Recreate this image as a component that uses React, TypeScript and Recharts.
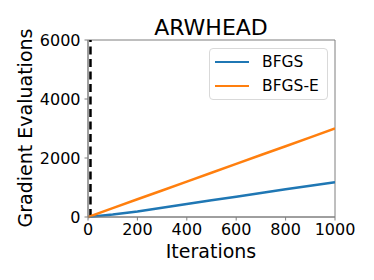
import React from 'react';
import {
  LineChart,
  Line,
  XAxis,
  YAxis,
  ReferenceLine,
  ReferenceArea,
} from 'recharts';

// values
const iterations = [0, 100, 200, 300, 400, 500, 600, 700, 800, 900, 1000];
const bfgs = [0, 85, 190, 315, 440, 565, 690, 815, 940, 1060, 1180];
const bfgsE = [0, 300, 600, 900, 1200, 1500, 1800, 2100, 2400, 2700, 3000];
const xTicks = [0, 200, 400, 600, 800, 1000];
const yTicks = [0, 2000, 4000, 6000];
const cutoff = 10;

const seriesNames = ['BFGS', 'BFGS-E'];
const seriesColors = ['#1f77b4', '#ff7f0e'];

const FONT = '"DejaVu Sans", sans-serif';
const AXIS = '#7f7f7f';

const data = iterations.map((it, i) => ({ it, bfgs: bfgs[i], bfgsE: bfgsE[i] }));

// legend is plain html on top of the svg so it doesn't eat plot space
const LegendBox = () => (
  <div
    style={{
      position: 'absolute',
      left: 209,
      top: 48,
      width: 119,
      height: 52,
      border: '1px solid #d9d9d9',
      borderRadius: 4,
      background: 'rgba(255,255,255,0.8)',
      fontFamily: FONT,
      fontSize: 15.5,
      color: '#000',
      boxSizing: 'border-box',
      paddingTop: 1,
    }}
  >
    {seriesNames.map((name, i) => (
      <div key={name} style={{ display: 'flex', alignItems: 'center', height: 24 }}>
        <div style={{ width: 34, height: 2.5, background: seriesColors[i], marginLeft: 5, marginRight: 13 }} />
        <span>{name}</span>
      </div>
    ))}
  </div>
);

export default function App() {
  return (
    <div style={{ position: 'absolute', left: 0, top: 0, width: 374, height: 280, background: '#fff' }}>
      <LineChart
        width={374}
        height={280}
        data={data}
        margin={{ top: 40, right: 39, bottom: 33, left: 28 }}
      >
        <XAxis
          dataKey="it"
          type="number"
          domain={[0, 1000]}
          ticks={xTicks}
          allowDataOverflow
          height={30}
          stroke={AXIS}
          tickSize={3.5}
          tickMargin={3}
          tick={{ fill: '#000', fontSize: 16, fontFamily: FONT }}
        />
        <YAxis
          type="number"
          domain={[0, 6000]}
          ticks={yTicks}
          width={60}
          stroke={AXIS}
          tickSize={3.5}
          tickMargin={4}
          tick={{ fill: '#000', fontSize: 16, fontFamily: FONT }}
        />
        <ReferenceArea x1={0} x2={1000} y1={0} y2={6000} fill="none" stroke={AXIS} strokeWidth={1} ifOverflow="visible" />
        <ReferenceLine x={cutoff} stroke="#000" strokeWidth={2.5} strokeDasharray="8 4.5" />
        <Line dataKey="bfgs" stroke={seriesColors[0]} strokeWidth={2.5} dot={false} isAnimationActive={false} />
        <Line dataKey="bfgsE" stroke={seriesColors[1]} strokeWidth={2.5} dot={false} isAnimationActive={false} />
        <text x={211} y={35} textAnchor="middle" fontSize={22} fontFamily={FONT} fill="#000">
          ARWHEAD
        </text>
        <text x={211} y={258} textAnchor="middle" fontSize={19} fontFamily={FONT} fill="#000">
          Iterations
        </text>
        <text
          x={0}
          y={0}
          transform="translate(32 128) rotate(-90)"
          textAnchor="middle"
          fontSize={19}
          fontFamily={FONT}
          fill="#000"
        >
          Gradient Evaluations
        </text>
      </LineChart>
      <LegendBox />
    </div>
  );
}
